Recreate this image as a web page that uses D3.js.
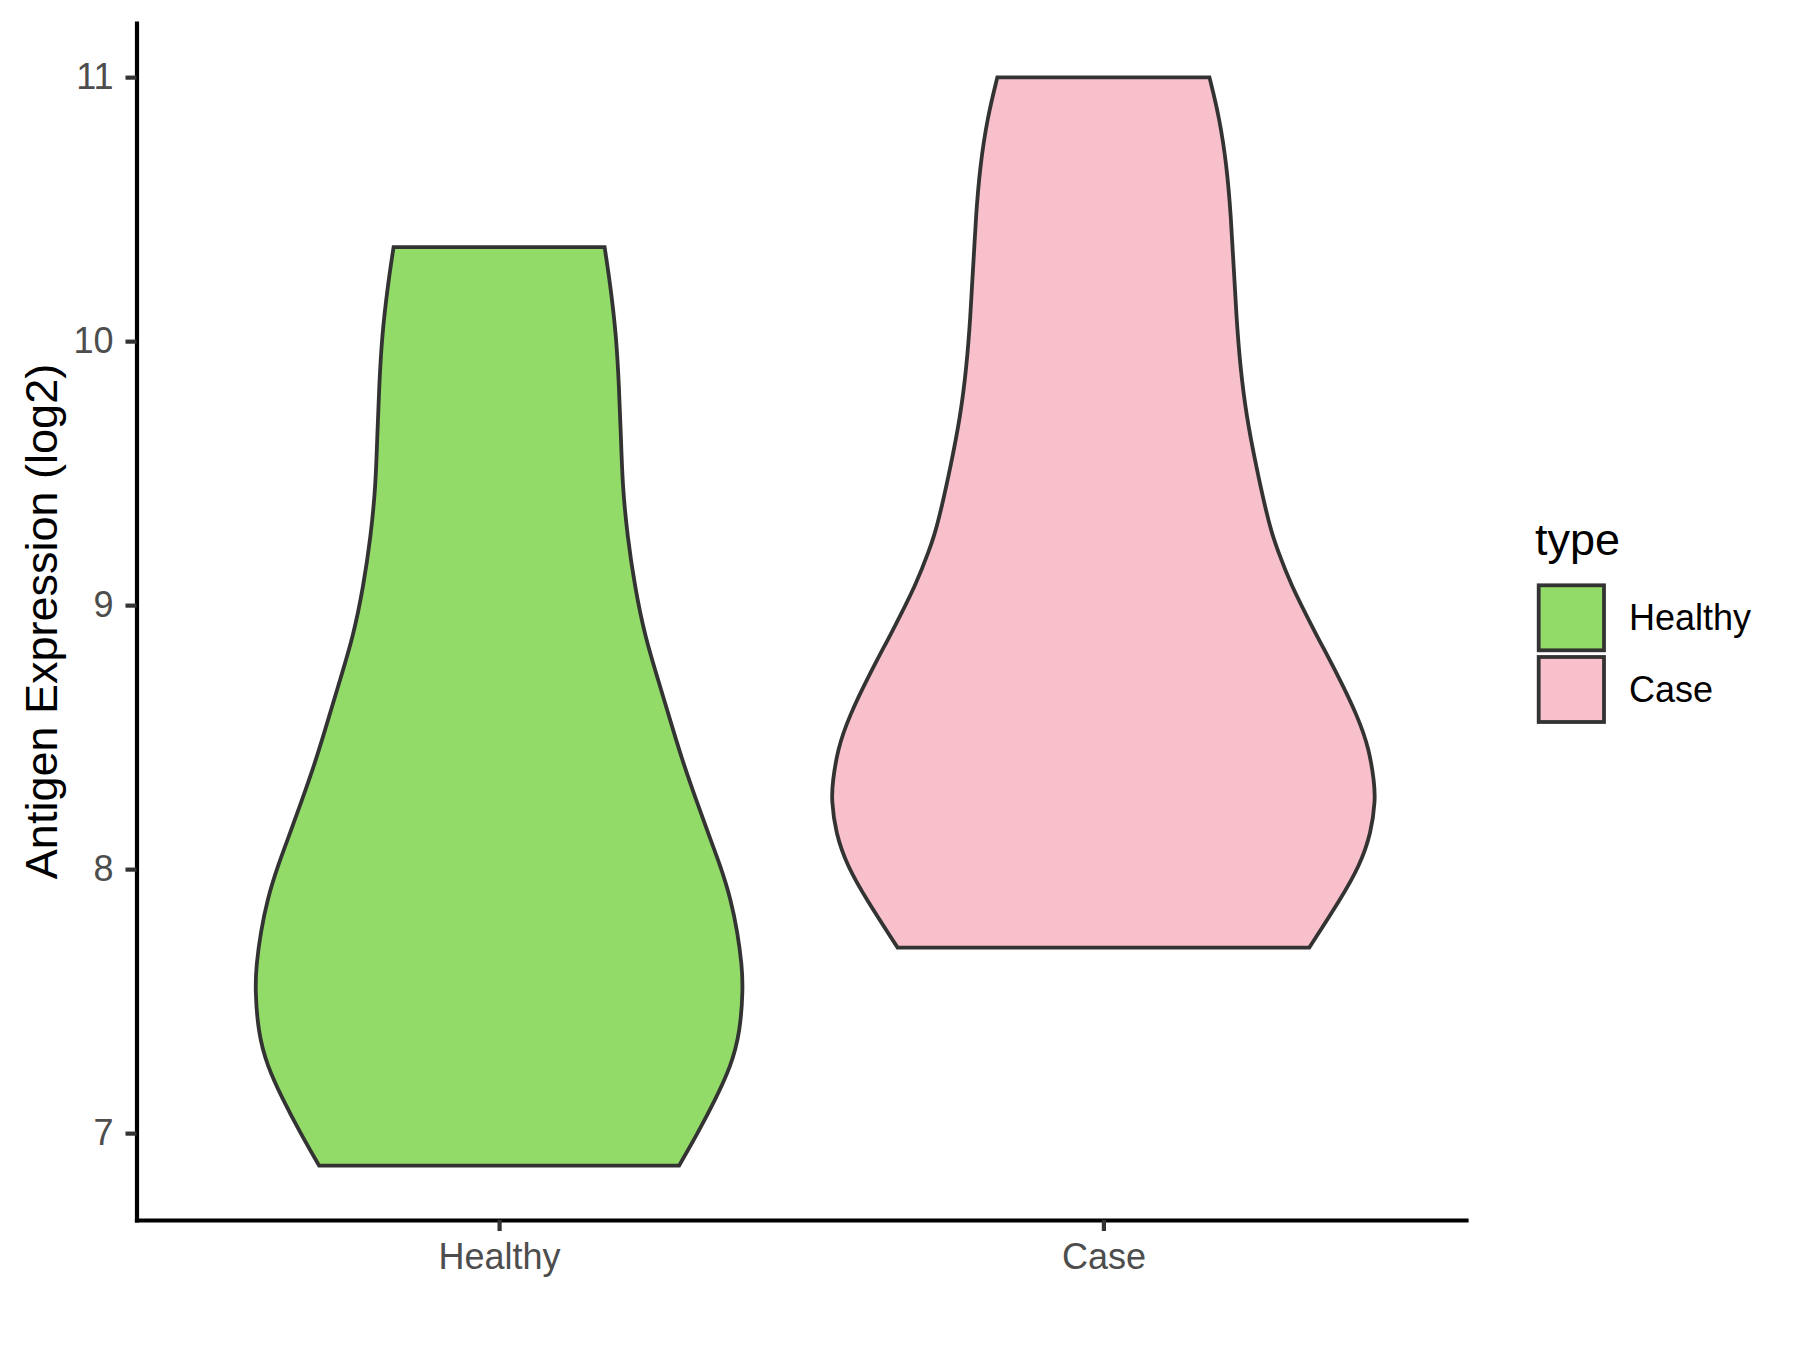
<!DOCTYPE html>
<html>
<head>
<meta charset="utf-8">
<script src="https://cdn.jsdelivr.net/npm/d3@7"></script>
<style>
  html, body { margin: 0; padding: 0; background: #ffffff; }
  svg { display: block; }
  text { font-family: "Liberation Sans", Arial, Helvetica, sans-serif; }
</style>
</head>
<body>
<svg id="chart" width="1800" height="1350"></svg>
<script>
// ---------------- data ----------------
const categories = ["Healthy", "Case"];
const fillColors = ["#93DB69", "#F7C0CB"];
const yTicks = [7, 8, 9, 10, 11];

// violin outlines: expression value (log2) and relative density (max = 1)
const healthyValues  = [10.356, 10.206, 10.017, 9.828, 9.639, 9.450, 9.260, 9.071, 8.882, 8.700, 8.516, 8.390, 8.264, 8.138, 8.012, 7.886, 7.760, 7.634, 7.545, 7.381, 7.255, 7.129, 7.003, 6.877];
const healthyDensity = [0.388, 0.410, 0.431, 0.441, 0.448, 0.454, 0.472, 0.499, 0.536, 0.590, 0.643, 0.681, 0.724, 0.768, 0.814, 0.852, 0.877, 0.893, 0.897, 0.886, 0.853, 0.796, 0.732, 0.662];

const caseValues  = [10.999, 10.850, 10.661, 10.471, 10.282, 10.093, 9.904, 9.714, 9.525, 9.374, 9.273, 9.210, 9.084, 8.895, 8.731, 8.579, 8.453, 8.327, 8.264, 8.138, 8.012, 7.886, 7.703];
const caseDensity = [0.390, 0.426, 0.454, 0.469, 0.479, 0.489, 0.503, 0.526, 0.562, 0.594, 0.619, 0.640, 0.686, 0.779, 0.864, 0.935, 0.978, 0.996, 1.000, 0.985, 0.942, 0.872, 0.757];

const groups = [
  { name: categories[0], values: healthyValues, density: healthyDensity, fill: fillColors[0] },
  { name: categories[1], values: caseValues,    density: caseDensity,    fill: fillColors[1] }
];

// ---------------- layout ----------------
const panel = { left: 136.5, right: 1466, top: 23, bottom: 1220 };
const svg = d3.select("#chart");
svg.append("rect").attr("width", 1800).attr("height", 1350).attr("fill", "#ffffff");

const allVals = healthyValues.concat(caseValues);
const vMin = d3.min(allVals), vMax = d3.max(allVals);
const pad = (vMax - vMin) * 0.05;

const y = d3.scaleLinear().domain([vMin - pad, vMax + pad]).range([panel.bottom, panel.top]);
const x = d3.scalePoint().domain(categories).range([panel.left, panel.right]).padding(0.6);
const halfMax = x.step() * 0.45;
const w = d3.scaleLinear().domain([0, 1]).range([0, halfMax]);

// ---------------- violins ----------------
const area = d3.area()
  .curve(d3.curveBasis)
  .y(d => y(d.v))
  .x0(d => d.cx - w(d.d))
  .x1(d => d.cx + w(d.d));

groups.forEach(g => {
  const cx = x(g.name);
  const pts = g.values.map((v, i) => ({ v: v, d: g.density[i], cx: cx }));
  svg.append("path")
    .datum(pts)
    .attr("d", area)
    .attr("fill", g.fill)
    .attr("stroke", "#333333")
    .attr("stroke-width", 3.8)
    .attr("stroke-linejoin", "miter");
});

// ---------------- axes ----------------
const yAxis = d3.axisLeft(y).tickValues(yTicks).tickFormat(d3.format("d"))
  .tickSize(11).tickSizeOuter(0).tickPadding(12);
const xAxis = d3.axisBottom(x).tickSize(11).tickSizeOuter(0).tickPadding(12);

const gy = svg.append("g").attr("transform", `translate(${panel.left},0)`).call(yAxis);
const gx = svg.append("g").attr("transform", `translate(0,${panel.bottom})`).call(xAxis);

[gx, gy].forEach(g => {
  g.select(".domain").attr("stroke", "#000000").attr("stroke-width", 4.2).attr("stroke-linecap", "square");
  g.selectAll(".tick line").attr("stroke", "#333333").attr("stroke-width", 4.2);
  g.selectAll(".tick text")
    .attr("fill", "#4D4D4D")
    .attr("font-size", 36)
    .attr("font-family", "Liberation Sans, Arial, sans-serif");
});

// y axis title
svg.append("text")
  .attr("transform", `translate(57,${(panel.top + panel.bottom) / 2}) rotate(-90)`)
  .attr("text-anchor", "middle")
  .attr("font-size", 45)
  .attr("fill", "#000000")
  .text("Antigen Expression (log2)");

// ---------------- legend ----------------
svg.append("text")
  .attr("x", 1535)
  .attr("y", 555)
  .attr("font-size", 45)
  .attr("fill", "#000000")
  .text("type");

const keyTop = [585.3, 657];
groups.forEach((g, i) => {
  svg.append("rect")
    .attr("x", 1538.7)
    .attr("y", keyTop[i])
    .attr("width", 65.3)
    .attr("height", 65)
    .attr("fill", g.fill)
    .attr("stroke", "#333333")
    .attr("stroke-width", 3.8);
  svg.append("text")
    .attr("x", 1629)
    .attr("y", keyTop[i] + 32.5)
    .attr("dy", "0.35em")
    .attr("font-size", 36)
    .attr("fill", "#000000")
    .text(g.name);
});
</script>
</body>
</html>
